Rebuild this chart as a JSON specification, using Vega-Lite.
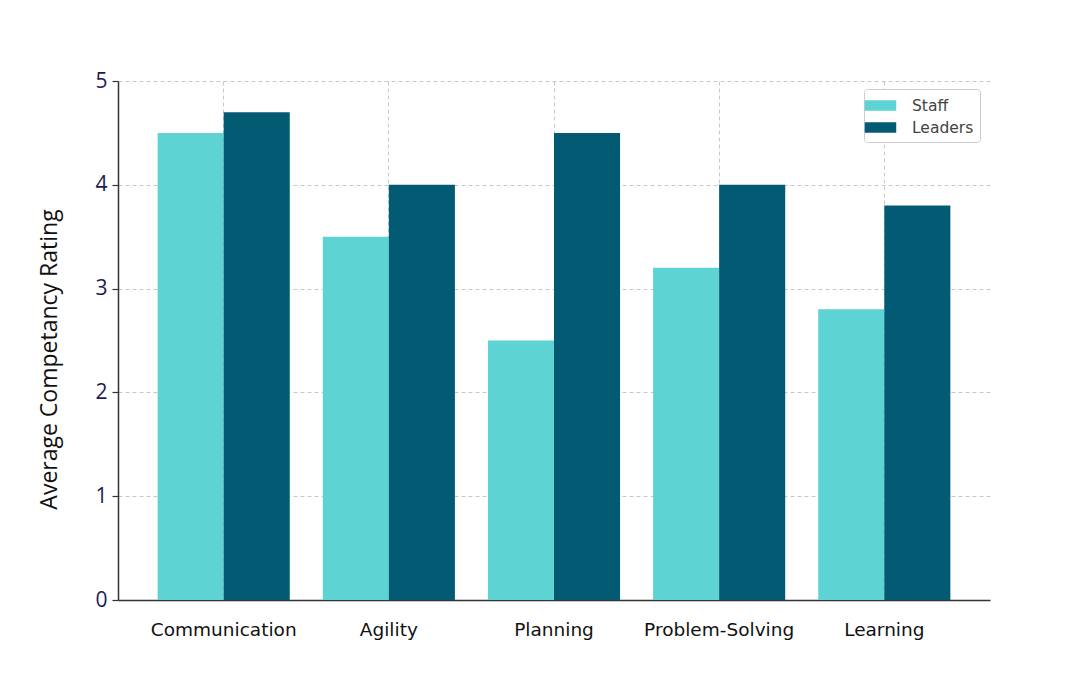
{
  "$schema": "https://vega.github.io/schema/vega-lite/v6.json",
  "width": 872,
  "height": 519,
  "autosize": {"type": "none"},
  "padding": {"left": 118, "top": 81, "right": 90, "bottom": 75},
  "background": "white",
  "data": {
    "values": [
      {"Skill": "Communication", "Group": "Staff", "Rating": 4.5},
      {"Skill": "Communication", "Group": "Leaders", "Rating": 4.7},
      {"Skill": "Agility", "Group": "Staff", "Rating": 3.5},
      {"Skill": "Agility", "Group": "Leaders", "Rating": 4.0},
      {"Skill": "Planning", "Group": "Staff", "Rating": 2.5},
      {"Skill": "Planning", "Group": "Leaders", "Rating": 4.5},
      {"Skill": "Problem-Solving", "Group": "Staff", "Rating": 3.2},
      {"Skill": "Problem-Solving", "Group": "Leaders", "Rating": 4.0},
      {"Skill": "Learning", "Group": "Staff", "Rating": 2.8},
      {"Skill": "Learning", "Group": "Leaders", "Rating": 3.8}
    ]
  },
  "config": {
    "view": {"stroke": null},
    "axis": {"gridColor": "#bbbbbb", "gridDash": [4, 3], "gridWidth": 0.8, "domainColor": "#333333", "domainWidth": 1.5, "zindex": 1}
  },
  "mark": {"type": "bar"},
  "encoding": {
    "x": {
      "field": "Skill",
      "type": "nominal",
      "sort": ["Communication", "Agility", "Planning", "Problem-Solving", "Learning"],
      "scale": {"paddingInner": 0.2, "paddingOuter": 0.24},
      "axis": {
        "title": null,
        "labelAngle": 0,
        "ticks": false,
        "labelFont": "DejaVu Sans",
        "labelFontSize": 18.5,
        "labelColor": "#111111",
        "labelPadding": 20,
        "bandPosition": 0.5,
        "grid": true
      }
    },
    "xOffset": {
      "field": "Group",
      "type": "nominal",
      "sort": ["Staff", "Leaders"],
      "scale": {"paddingInner": 0, "paddingOuter": 0}
    },
    "y": {
      "field": "Rating",
      "type": "quantitative",
      "scale": {"domain": [0, 5], "nice": false},
      "axis": {
        "title": "Average Competancy Rating",
        "titleFont": "Open Sans",
        "titleFontSize": 23,
        "titleFontWeight": "normal",
        "titleColor": "#111111",
        "titleX": -57,
        "titleY": 278,
        "values": [0, 1, 2, 3, 4, 5],
        "labelFont": "Open Sans",
        "labelFontSize": 21,
        "labelColor": "#1c1c54",
        "tickColor": "#333333",
        "tickSize": 6,
        "tickWidth": 1.2,
        "labelPadding": 5,
        "grid": true
      }
    },
    "color": {
      "field": "Group",
      "type": "nominal",
      "sort": ["Staff", "Leaders"],
      "scale": {"domain": ["Staff", "Leaders"], "range": ["#5dd3d3", "#035b73"]},
      "legend": {
        "title": null,
        "orient": "none",
        "legendX": 746,
        "legendY": 8,
        "symbolType": "M-1.5,-0.5H1.5V0.5H-1.5Z",
        "symbolSize": 440,
        "symbolStrokeWidth": 0,
        "labelFont": "DejaVu Sans",
        "labelFontSize": 15.5,
        "labelColor": "#444444",
        "labelOffset": 21,
        "rowPadding": 3,
        "strokeColor": "#cccccc",
        "cornerRadius": 3,
        "padding": 6,
        "fillColor": "white"
      }
    }
  }
}
